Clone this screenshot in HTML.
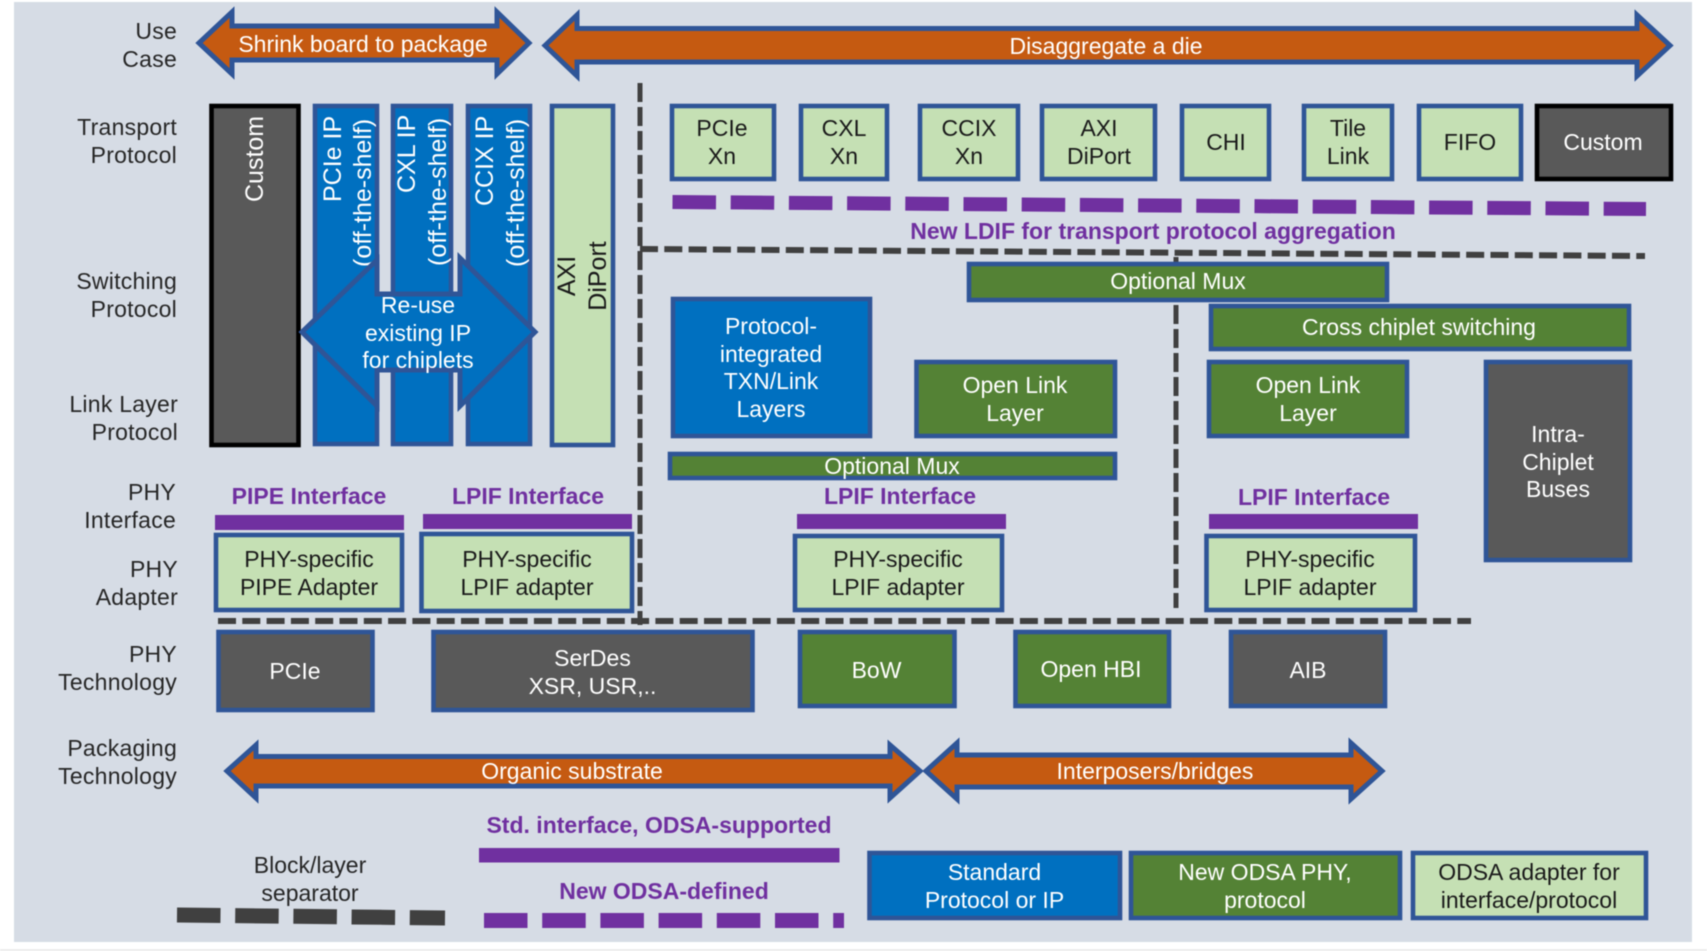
<!DOCTYPE html>
<html lang="en">
<head>
<meta charset="utf-8">
<title>Chiplet protocol stack</title>
<style>
html,body{margin:0;padding:0;background:#fff;width:1707px;height:951px;overflow:hidden}
svg{display:block;filter:blur(.45px)}
text{font-family:"Liberation Sans",Arial,sans-serif;font-size:23px}
.l{text-anchor:end;fill:#262626;letter-spacing:.25px}
.c{text-anchor:middle}
.w{fill:#fff}
.k{fill:#1a1a1a}
.p{fill:#7030A0;font-weight:bold;text-anchor:middle}
.r{font-size:25px}
.box{stroke:#2F5597;stroke-width:4.6}
.arrow{fill:#C55A11;stroke:#2F5597;stroke-width:5;stroke-linejoin:miter}
.G{fill:#548235}.L{fill:#C5E0B4}.B{fill:#0070C0}.D{fill:#595959}
</style>
</head>
<body>
<svg width="1707" height="951" viewBox="0 0 1707 951" xmlns="http://www.w3.org/2000/svg">
<rect x="14" y="2" width="1678" height="940" fill="#D6DCE5"/>
<rect x="0" y="949" width="1707" height="2" fill="#ececec"/>

<!-- Top arrows -->
<polygon class="arrow" points="199,43 232,12 232,26 497,26 497,12 529,43 497,74 497,60 232,60 232,74"/>
<polygon class="arrow" points="545,45.5 577,15 577,28.5 1637,28.5 1637,15 1670,45.5 1637,76 1637,62 577,62 577,76"/>
<text class="c w" x="363" y="52">Shrink board to package</text>
<text class="c w" x="1106" y="54">Disaggregate a die</text>

<!-- Row labels -->
<text class="l" x="177" y="39">Use</text><text class="l" x="177" y="67">Case</text>
<text class="l" x="177" y="135">Transport</text><text class="l" x="177" y="163">Protocol</text>
<text class="l" x="177" y="289">Switching</text><text class="l" x="177" y="317">Protocol</text>
<text class="l" x="178" y="412">Link Layer</text><text class="l" x="178" y="440">Protocol</text>
<text class="l" x="176" y="500">PHY</text><text class="l" x="176" y="528">Interface</text>
<text class="l" x="178" y="577">PHY</text><text class="l" x="178" y="605">Adapter</text>
<text class="l" x="177" y="662">PHY</text><text class="l" x="177" y="690">Technology</text>
<text class="l" x="177" y="756">Packaging</text><text class="l" x="177" y="784">Technology</text>

<!-- Left columns -->
<rect x="211.5" y="106" width="87" height="339" class="D" stroke="#000" stroke-width="4.6"/>
<rect x="315" y="106" width="62" height="338" class="box B"/>
<rect x="393" y="106" width="58" height="338" class="box B"/>
<rect x="468" y="106" width="62" height="338" class="box B"/>
<rect x="552" y="106" width="61" height="339" class="box L"/>

<text class="r w" transform="translate(263 202) rotate(-90)">Custom</text>
<text class="r w" transform="translate(341 202) rotate(-90)">PCIe IP</text>
<text class="r w" transform="translate(371 267) rotate(-90)">(off-the-shelf)</text>
<text class="r w" transform="translate(415 193) rotate(-90)">CXL IP</text>
<text class="r w" transform="translate(446 266) rotate(-90)">(off-the-shelf)</text>
<text class="r w" transform="translate(493 206) rotate(-90)">CCIX IP</text>
<text class="r w" transform="translate(524 267) rotate(-90)">(off-the-shelf)</text>
<text class="r k c" transform="translate(575 276) rotate(-90)">AXI</text>
<text class="r k c" transform="translate(606 276) rotate(-90)">DiPort</text>

<!-- Re-use arrow -->
<polygon points="302,332 377,260 377,294 460,294 460,258 535,332 460,406 460,370 377,370 377,406" fill="#0070C0" stroke="#2F5597" stroke-width="5"/>
<text class="c w" x="418" y="313">Re-use</text>
<text class="c w" x="418" y="341">existing IP</text>
<text class="c w" x="418" y="368">for chiplets</text>

<!-- Separators -->
<line x1="640" y1="83" x2="640" y2="625" stroke="#404040" stroke-width="5" stroke-dasharray="19 5"/>
<line x1="640" y1="249" x2="1645" y2="256" stroke="#404040" stroke-width="6" stroke-dasharray="18 6.3"/>
<line x1="1176" y1="257" x2="1176" y2="608" stroke="#404040" stroke-width="5" stroke-dasharray="19 5"/>
<line x1="218" y1="621" x2="1471" y2="621" stroke="#404040" stroke-width="6" stroke-dasharray="18 6.3"/>
<line x1="672.5" y1="202" x2="1646" y2="209" stroke="#7030A0" stroke-width="14" stroke-dasharray="43.5 14.7"/>

<!-- Transport boxes -->
<rect x="672" y="106" width="102" height="73" class="box L"/>
<rect x="801" y="106" width="86" height="73" class="box L"/>
<rect x="920" y="106" width="98" height="73" class="box L"/>
<rect x="1042" y="106" width="113" height="73" class="box L"/>
<rect x="1182" y="106" width="87" height="73" class="box L"/>
<rect x="1304" y="106" width="88" height="73" class="box L"/>
<rect x="1419" y="106" width="102" height="73" class="box L"/>
<rect x="1537" y="106" width="134" height="73" class="D" stroke="#000" stroke-width="4.6"/>
<text class="c k" x="722" y="136">PCIe</text><text class="c k" x="722" y="164">Xn</text>
<text class="c k" x="844" y="136">CXL</text><text class="c k" x="844" y="164">Xn</text>
<text class="c k" x="969" y="136">CCIX</text><text class="c k" x="969" y="164">Xn</text>
<text class="c k" x="1099" y="136">AXI</text><text class="c k" x="1099" y="164">DiPort</text>
<text class="c k" x="1226" y="150">CHI</text>
<text class="c k" x="1348" y="136">Tile</text><text class="c k" x="1348" y="164">Link</text>
<text class="c k" x="1470" y="150">FIFO</text>
<text class="c w" x="1603" y="150">Custom</text>
<text class="p" x="1153" y="239">New LDIF for transport protocol aggregation</text>

<!-- Middle -->
<rect x="969" y="264" width="418" height="36" class="box G"/>
<text class="c w" x="1178" y="289">Optional Mux</text>
<rect x="1211" y="306" width="418" height="43" class="box G"/>
<text class="c w" x="1419" y="335">Cross chiplet switching</text>
<rect x="673" y="299" width="197" height="137" class="box B"/>
<text class="c w" x="771" y="334">Protocol-</text>
<text class="c w" x="771" y="362">integrated</text>
<text class="c w" x="771" y="389">TXN/Link</text>
<text class="c w" x="771" y="417">Layers</text>
<rect x="916.5" y="362" width="198.5" height="74" class="box G"/>
<text class="c w" x="1015" y="393">Open Link</text><text class="c w" x="1015" y="421">Layer</text>
<rect x="1209" y="362" width="198" height="74" class="box G"/>
<text class="c w" x="1308" y="393">Open Link</text><text class="c w" x="1308" y="421">Layer</text>
<rect x="1486" y="362" width="144" height="198" class="box D"/>
<text class="c w" x="1558" y="442">Intra-</text>
<text class="c w" x="1558" y="470">Chiplet</text>
<text class="c w" x="1558" y="497">Buses</text>
<rect x="670" y="454" width="445" height="24" class="box G"/>
<text class="c w" x="892" y="474">Optional Mux</text>

<!-- Interfaces -->
<text class="p" x="309" y="504">PIPE Interface</text>
<text class="p" x="528" y="504">LPIF Interface</text>
<text class="p" x="900" y="504">LPIF Interface</text>
<text class="p" x="1314" y="505">LPIF Interface</text>
<rect x="215" y="515" width="189" height="15" fill="#7030A0"/>
<rect x="423" y="514" width="209" height="15" fill="#7030A0"/>
<rect x="797" y="514" width="209" height="15" fill="#7030A0"/>
<rect x="1209" y="514" width="209" height="15" fill="#7030A0"/>

<!-- Adapters -->
<rect x="216" y="535" width="186" height="75" class="box L"/>
<rect x="421.5" y="534" width="210.5" height="77" class="box L"/>
<rect x="795" y="536" width="207" height="74" class="box L"/>
<rect x="1206.5" y="536" width="208.5" height="74" class="box L"/>
<text class="c k" x="309" y="567">PHY-specific</text><text class="c k" x="309" y="595">PIPE Adapter</text>
<text class="c k" x="527" y="567">PHY-specific</text><text class="c k" x="527" y="595">LPIF adapter</text>
<text class="c k" x="898" y="567">PHY-specific</text><text class="c k" x="898" y="595">LPIF adapter</text>
<text class="c k" x="1310" y="567">PHY-specific</text><text class="c k" x="1310" y="595">LPIF adapter</text>

<!-- PHY tech -->
<rect x="218.5" y="632" width="154" height="78" class="box D"/>
<rect x="433.5" y="632" width="319" height="78" class="box D"/>
<rect x="800" y="632" width="154.5" height="74" class="box G"/>
<rect x="1015.5" y="632" width="153.5" height="74" class="box G"/>
<rect x="1231" y="632" width="154" height="74" class="box D"/>
<text class="c w" x="295" y="679">PCIe</text>
<text class="c w" x="592.5" y="666">SerDes</text><text class="c w" x="592.5" y="694">XSR, USR,..</text>
<text class="c w" x="876.5" y="678">BoW</text>
<text class="c w" x="1091" y="677">Open HBI</text>
<text class="c w" x="1308" y="678">AIB</text>

<!-- Packaging arrows -->
<polygon class="arrow" points="227,771 256,745 256,756.5 890,756.5 890,745 920,771 890,798 890,786 256,786 256,798"/>
<polygon class="arrow" points="926,771 957,743 957,755 1351,755 1351,743 1382,771 1351,799 1351,787 957,787 957,799"/>
<text class="c w" x="572" y="779">Organic substrate</text>
<text class="c w" x="1155" y="779">Interposers/bridges</text>

<!-- Legend -->
<text class="p" x="659" y="833">Std. interface, ODSA-supported</text>
<rect x="479" y="848" width="360.5" height="14.5" fill="#7030A0"/>
<text class="p" x="664" y="899">New ODSA-defined</text>
<line x1="484" y1="920.5" x2="844" y2="920.5" stroke="#7030A0" stroke-width="15" stroke-dasharray="43.5 14.7"/>
<text class="c" x="310" y="873" fill="#262626">Block/layer</text>
<text class="c" x="310" y="901" fill="#262626">separator</text>
<line x1="177" y1="915" x2="445" y2="918" stroke="#404040" stroke-width="15" stroke-dasharray="43.5 14.7"/>
<rect x="869.5" y="853" width="250.5" height="65" class="box B"/>
<rect x="1131" y="853" width="269" height="65" class="box G"/>
<rect x="1413" y="853" width="233" height="65" class="box L"/>
<text class="c w" x="994.5" y="880">Standard</text><text class="c w" x="994.5" y="908">Protocol or IP</text>
<text class="c w" x="1265" y="880">New ODSA PHY,</text><text class="c w" x="1265" y="908">protocol</text>
<text class="c k" x="1529" y="880">ODSA adapter for</text><text class="c k" x="1529" y="908">interface/protocol</text>
</svg>
</body>
</html>
